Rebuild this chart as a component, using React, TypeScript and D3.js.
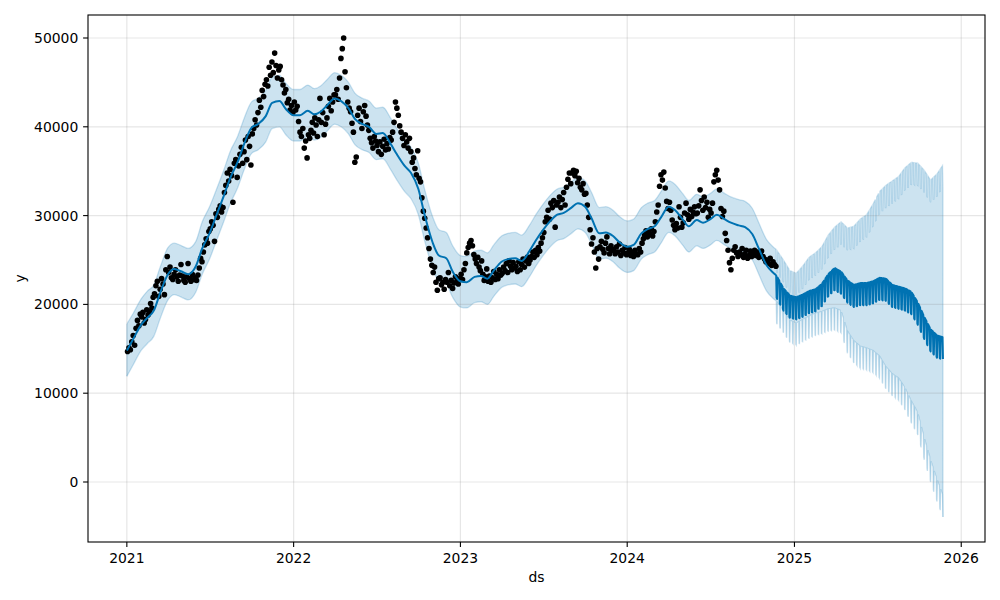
import React from 'react';
import * as d3 from 'd3';

// ---------- observed data points (one inner list per month, chronological) ----------
const obs2021: number[][] = [
  [14700, 15100, 14900, 15800, 16500, 15400, 17300, 18200, 17600, 18900],
  [18600, 19100, 17900, 18300, 19400, 18800, 19200, 20100, 19600, 20800],
  [21200, 22100, 22600, 20900, 21700, 22900, 22300, 21100, 23900, 25400],
  [23600, 24200, 23000, 22800, 23400, 23900, 23100, 22600, 23300, 24500],
  [23200, 22700, 22500, 23100, 24600, 22900, 22600, 23400, 22800, 23000],
  [22700, 23300, 24100, 25200, 24800, 25900, 26700, 27400, 26900, 28200],
  [28500, 29300, 28900, 27100, 30200, 29800, 30700, 31100, 30400, 30900],
  [32600, 33400, 34800, 33900, 35200, 34500, 31500, 35900, 36300, 34300],
  [35600, 36900, 37700, 35900, 37200, 38500, 36300, 38900, 37800, 35700],
  [39200, 39800, 40800, 40200, 41600, 43000, 42200, 44100, 43400, 44800],
  [45300, 44600, 46700, 45800, 47300, 46100, 48300, 46900, 45500, 46400],
  [46800, 45300, 44700, 43800, 44200, 42700, 43100, 41900, 42400, 41600],
];
const obs2022: number[][] = [
  [42800, 41900, 42300, 40600, 39400, 38900, 39800, 37600, 38400, 36500],
  [39100, 38700, 39600, 40500, 39300, 41000, 40200, 38900, 40800, 43200],
  [40500, 41600, 39100, 40300, 41000, 42300, 43200, 41800, 42800, 43600],
  [43600, 44200, 43100, 45500, 47700, 48800, 50000, 46200, 44400, 42800],
  [42100, 41700, 40400, 39400, 36000, 36600, 41300, 42100, 40600, 39800],
  [41700, 42400, 41200, 40200, 39600, 38700, 38200, 37600, 38900, 38400],
  [37900, 37200, 38300, 36900, 37800, 38600, 37400, 38100, 37500, 38800],
  [38500, 39400, 40500, 42800, 42100, 41300, 40100, 39400, 38700, 37900],
  [39100, 38300, 37600, 38700, 37200, 36000, 36500, 35300, 34600, 37300],
  [34200, 33800, 32000, 30500, 29700, 28600, 27500, 26300, 25100, 24400],
  [23600, 24200, 22500, 21600, 22900, 23000, 22200, 22500, 21700, 22800],
  [22500, 23600, 22100, 22700, 21800, 22400, 23100, 22600, 22300, 22900],
];
const obs2023: number[][] = [
  [23400, 22800, 23900, 24600, 25800, 26400, 26900, 27200, 26600, 25600],
  [25100, 24600, 25300, 24200, 23800, 24900, 23400, 22700, 23100, 24000],
  [22600, 23200, 22500, 23000, 23700, 22800, 23400, 22900, 23900, 23300],
  [23500, 24200, 23800, 24600, 23600, 24900, 24300, 23900, 24700, 24100],
  [24300, 23700, 24800, 23900, 24500, 25100, 24200, 24900, 25300, 24600],
  [25000, 25400, 25900, 25300, 26100, 25600, 26400, 26000, 26900, 27500],
  [28100, 29300, 29800, 30600, 29600, 31400, 30900, 31700, 28700, 31200],
  [31500, 32100, 30900, 31800, 32600, 31200, 33200, 34100, 34800, 33600],
  [34800, 35100, 34500, 35000, 33700, 34200, 33200, 32900, 33600, 32400],
  [32500, 31200, 29800, 28400, 26800, 27500, 25900, 24100, 26300, 25100],
  [26500, 27100, 26200, 25800, 26900, 27600, 26300, 25700, 26600, 26100],
  [26200, 25700, 26500, 25900, 26800, 25500, 26100, 25800, 26400, 25600],
];
const obs2024: number[][] = [
  [25800, 26200, 25500, 25900, 25400, 26100, 25700, 25600, 26300, 25900],
  [26900, 27400, 27800, 28300, 27600, 28100, 27900, 28500, 27700, 28200],
  [29300, 30400, 31200, 33300, 34600, 34000, 34900, 33100, 31600, 30800],
  [31500, 30600, 29500, 28900, 28400, 29100, 28600, 31000, 29800, 28700],
  [29200, 30300, 31400, 30100, 29600, 30700, 29900, 30400, 31000, 30200],
  [30300, 31100, 32900, 31700, 30600, 32100, 30900, 31500, 29800, 30700],
  [30300, 31400, 33800, 34600, 35100, 34000, 32900, 30800, 29900, 30500],
  [28000, 27200, 26100, 24700, 23900, 25200, 26100, 26500, 25800, 25400],
  [25900, 25600, 26300, 25300, 25700, 26100, 25200, 25500, 26000, 25400],
  [25800, 26100, 25500, 25900, 25300, 25700, 26000, 25400, 25100, 24800],
  [25000, 24600, 25200, 24400, 24800, 24500, 24300],
];

// ---------- fitted values over the history (1st and 15th of each month, last = 2024-11-22) ----------
const yhatHist: number[] = [
  14800, 16100, 17700, 18500, 19300, 21300, 23400, 24000, 23700, 23400, 24300, 26300,
  28000, 29900, 32200, 34200, 36100, 38100, 39900, 40300, 41200, 42700, 42900, 42000,
  41300, 41300, 41800, 41400, 41700, 42400, 43200, 42900, 42100, 40900, 40300, 40000,
  39200, 39300, 38100, 36900, 35600, 34800, 33000, 30000, 27000, 25500, 25200, 23700,
  22600, 22500, 23100, 23200, 22900, 23800, 24800, 25100, 25200, 24900, 26000, 27200,
  28400, 29300, 30100, 30300, 30900, 31400, 31000, 29700, 28000, 28100, 27700, 27000,
  26500, 26700, 28000, 28500, 28800, 29800, 31000, 30600, 29600, 28800, 29500, 29200,
  29600, 30100, 29600, 29200, 28900, 28700, 27900, 26300, 24400, 23600, 23300,
];
const upperHist: number[] = [
  17800, 19000, 20600, 21500, 22200, 24200, 26400, 26900, 26600, 26300, 27100, 29300,
  31000, 32800, 35100, 37200, 39000, 41000, 42800, 43200, 44100, 45600, 45800, 44900,
  44200, 44200, 44700, 44300, 44600, 45300, 46100, 45800, 45000, 43800, 43200, 42900,
  42100, 42200, 41000, 39800, 38500, 37700, 35900, 32900, 29900, 28400, 28100, 26600,
  25500, 25400, 26000, 26100, 25800, 26700, 27700, 28000, 28100, 27800, 28900, 30100,
  31300, 32200, 33000, 33200, 33800, 34300, 33900, 32600, 30900, 31000, 30600, 29900,
  29400, 29600, 30900, 31400, 31700, 32700, 33900, 33500, 32500, 31700, 32400, 32100,
  32500, 33000, 32500, 32100, 31800, 31600, 30800, 29200, 27300, 26500, 26200,
];
const lowerHist: number[] = [
  11900, 13200, 14800, 15600, 16400, 18400, 20500, 21100, 20800, 20500, 21400, 23400,
  25100, 27000, 29300, 31300, 33200, 35200, 37000, 37400, 38300, 39800, 40000, 39100,
  38400, 38400, 38900, 38500, 38800, 39500, 40300, 40000, 39200, 38000, 37400, 37100,
  36300, 36400, 35200, 34000, 32700, 31900, 30100, 27100, 24100, 22600, 22300, 20800,
  19700, 19600, 20200, 20300, 20000, 20900, 21900, 22200, 22300, 22000, 23100, 24300,
  25500, 26400, 27200, 27400, 28000, 28500, 28100, 26800, 25100, 25200, 24800, 24100,
  23600, 23800, 25100, 25600, 25900, 26900, 28100, 27700, 26700, 25900, 26600, 26300,
  26700, 27200, 26700, 26300, 26000, 25800, 25000, 23400, 21500, 20700, 20400,
];

// ---------- forecast (weekday level at two-week knots, 2024-11-22 ... 2025-11-22) ----------
const yhatFuture: number[] = [
  23300, 21800, 21000, 20800, 21100, 21500, 21700, 22300, 23400, 24100, 23700, 22700, 22200, 22400,
  22400, 22600, 23000, 22900, 22200, 22000, 21800, 21400, 20200, 18600, 17200, 16500, 16300,
];
const upperFuture: number[] = [
  26200, 25000, 23800, 23500, 24300, 25300, 25800, 26500, 27800, 28700, 29300, 28600, 28800, 29600,
  30100, 31300, 32700, 33400, 33900, 34400, 35400, 36000, 35900, 35100, 34000, 34700, 35700,
];
const lowerFuture: number[] = [
  20400, 19300, 18200, 17900, 18300, 18700, 19000, 19200, 19500, 19600, 19300, 17000, 15900, 15300,
  15100, 14800, 14200, 13000, 12200, 11700, 10600, 9100, 7800, 5000, 2500, 300, -1500,
];
// weekly component by day of week (Sun..Sat)
const weeklyEffect: number[] = [-2500, 0, 0, 0, 0, 0, -2450];

const yTicks: number[] = [0, 10000, 20000, 30000, 40000, 50000];
const xTickYears: number[] = [2021, 2022, 2023, 2024, 2025, 2026];

const BLUE = '#0072B2';
const FONT = 'DejaVu Sans, sans-serif';

export default function App() {
  const left = 88, right = 985, top = 15, bottom = 542;
  const x = d3.scaleTime().domain([new Date(2020, 9, 8), new Date(2026, 1, 22)]).range([left, right]);
  const y = d3.scaleLinear().domain([-6757, 52590]).range([bottom, top]);

  // observed points
  const obsEnd = new Date(2024, 10, 23);
  const obs: { d: Date; v: number }[] = [];
  ([[2021, obs2021], [2022, obs2022], [2023, obs2023], [2024, obs2024]] as [number, number[][]][]).forEach(([yr, months]) => {
    months.forEach((vals, m) => {
      const s = new Date(yr, m, 1);
      let e = new Date(yr, m + 1, 1);
      if (e > obsEnd) e = obsEnd;
      vals.forEach((v, i) => obs.push({ d: new Date(+s + ((i + 0.5) / vals.length) * (+e - +s)), v }));
    });
  });

  // history knots
  const knotDates: Date[] = [];
  for (let yr = 2021; yr <= 2024; yr++)
    for (let m = 0; m < 12; m++)
      for (const dd of [1, 15]) {
        const t = new Date(yr, m, dd);
        if (t <= new Date(2024, 10, 15)) knotDates.push(t);
      }
  knotDates.push(new Date(2024, 10, 22));
  const hist = knotDates.map((d, i) => ({ d, yhat: yhatHist[i], up: upperHist[i], lo: lowerHist[i] }));

  // future daily
  const fKnots: Date[] = [new Date(2024, 10, 22)];
  for (let k = 0; k < 25; k++) fKnots.push(d3.timeDay.offset(new Date(2024, 11, 8), 14 * k));
  fKnots.push(new Date(2025, 10, 22));
  const fY = d3.scaleTime().domain(fKnots).range(yhatFuture);
  const fU = d3.scaleTime().domain(fKnots).range(upperFuture);
  const fL = d3.scaleTime().domain(fKnots).range(lowerFuture);
  const days = d3.timeDay.range(new Date(2024, 10, 23), new Date(2025, 10, 23));
  const fut = [
    { d: new Date(2024, 10, 22), yhat: yhatFuture[0], up: upperFuture[0], lo: lowerFuture[0] },
    ...days.map((d) => {
      const w = weeklyEffect[d.getDay()];
      return { d, yhat: fY(d) + w, up: fU(d) + w, lo: fL(d) + w };
    }),
  ];

  type P = { d: Date; yhat: number; up: number; lo: number };
  const areaH = d3.area<P>().x((p) => x(p.d)).y0((p) => y(p.lo)).y1((p) => y(p.up)).curve(d3.curveMonotoneX);
  const areaF = d3.area<P>().x((p) => x(p.d)).y0((p) => y(p.lo)).y1((p) => y(p.up));
  const lineH = (acc: (p: P) => number) => d3.line<P>().x((p) => x(p.d)).y((p) => y(acc(p))).curve(d3.curveMonotoneX);
  const lineF = (acc: (p: P) => number) => d3.line<P>().x((p) => x(p.d)).y((p) => y(acc(p)));

  const fs = 13.9;
  const first = hist[0];
  const last = fut[fut.length - 1];

  return (
    <svg width={1000} height={600} style={{ position: 'absolute', left: 0, top: 0, background: '#fff' }} fontFamily={FONT}>
      <rect x={0} y={0} width={1000} height={600} fill="#fff" />
      {/* band fill */}
      <path d={areaH(hist) || ''} fill={BLUE} fillOpacity={0.2} stroke="none" />
      <path d={areaF(fut) || ''} fill={BLUE} fillOpacity={0.2} stroke="none" />
      <g fill="none" stroke={BLUE} strokeOpacity={0.2} strokeWidth={1.3}>
        <path d={lineH((p) => p.up)(hist) || ''} />
        <path d={lineH((p) => p.lo)(hist) || ''} />
        <path d={lineF((p) => p.up)(fut) || ''} />
        <path d={lineF((p) => p.lo)(fut) || ''} />
        <line x1={x(first.d)} x2={x(first.d)} y1={y(first.lo)} y2={y(first.up)} />
        <line x1={x(last.d)} x2={x(last.d)} y1={y(last.lo)} y2={y(last.up)} />
      </g>
      {/* grid */}
      <g stroke="#808080" strokeOpacity={0.2} strokeWidth={1.2}>
        {xTickYears.map((yr) => (
          <line key={'gx' + yr} x1={x(new Date(yr, 0, 1))} x2={x(new Date(yr, 0, 1))} y1={top} y2={bottom} />
        ))}
        {yTicks.map((t) => (
          <line key={'gy' + t} x1={left} x2={right} y1={y(t)} y2={y(t)} />
        ))}
      </g>
      {/* observed */}
      <g fill="#000">
        {obs.map((p, i) => (
          <circle key={i} cx={x(p.d)} cy={y(p.v)} r={2.8} />
        ))}
      </g>
      {/* yhat */}
      <path d={lineH((p) => p.yhat)(hist) || ''} fill="none" stroke={BLUE} strokeWidth={2} />
      <path d={lineF((p) => p.yhat)(fut) || ''} fill="none" stroke={BLUE} strokeWidth={2} strokeLinejoin="round" />
      {/* spines */}
      <rect x={left} y={top} width={right - left} height={bottom - top} fill="none" stroke="#000" strokeWidth={1.1} />
      {/* x ticks */}
      {xTickYears.map((yr) => {
        const xx = x(new Date(yr, 0, 1));
        return (
          <g key={'tx' + yr}>
            <line x1={xx} x2={xx} y1={bottom} y2={bottom + 4.9} stroke="#000" strokeWidth={1.1} />
            <text x={xx} y={562.5} textAnchor="middle" fontSize={fs} fill="#000">
              {String(yr)}
            </text>
          </g>
        );
      })}
      {/* y ticks */}
      {yTicks.map((t) => {
        const yy = y(t);
        return (
          <g key={'ty' + t}>
            <line x1={left - 4.9} x2={left} y1={yy} y2={yy} stroke="#000" strokeWidth={1.1} />
            <text x={78.3} y={yy} dy="0.36em" textAnchor="end" fontSize={fs} fill="#000">
              {String(t)}
            </text>
          </g>
        );
      })}
      <text x={(left + right) / 2} y={582} textAnchor="middle" fontSize={fs} fill="#000">
        ds
      </text>
      <text transform={`translate(25, ${(top + bottom) / 2}) rotate(-90)`} textAnchor="middle" fontSize={fs} fill="#000">
        y
      </text>
    </svg>
  );
}
